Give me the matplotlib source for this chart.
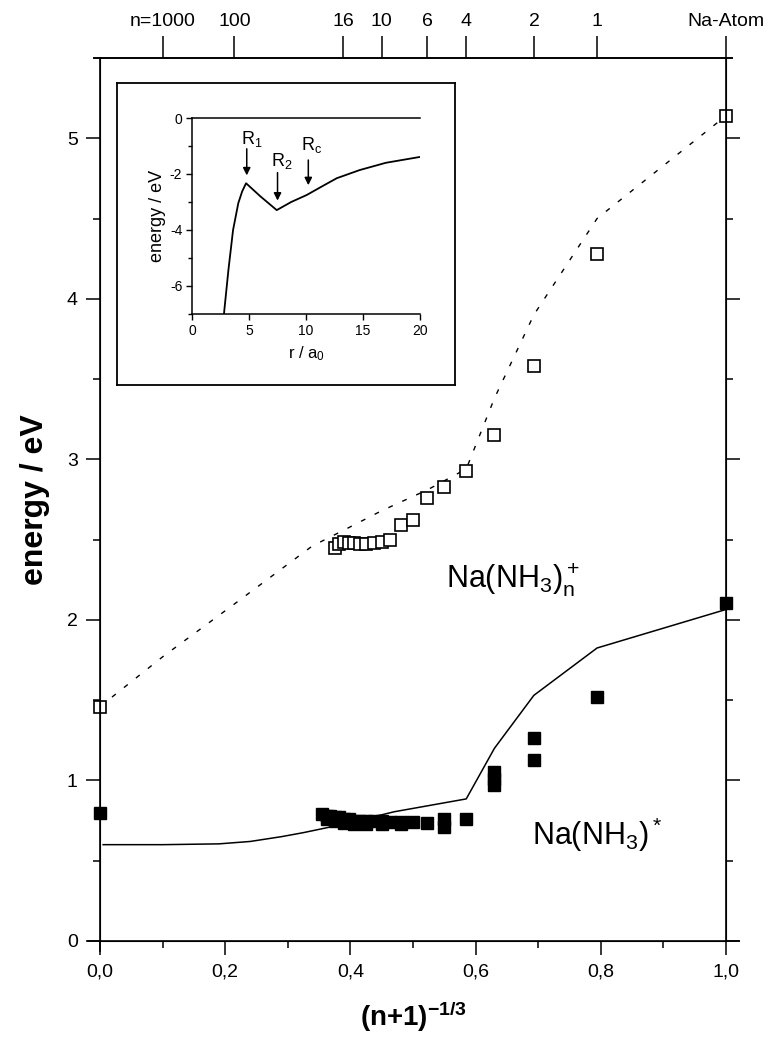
import matplotlib
matplotlib.use('Agg')
import matplotlib.pyplot as plt
from matplotlib.ticker import MultipleLocator, FuncFormatter

plt.rcParams['font.family'] = ['Liberation Sans', 'DejaVu Sans']
plt.rcParams['mathtext.fontset'] = 'custom'
plt.rcParams['mathtext.rm'] = 'Liberation Sans'
plt.rcParams['mathtext.bf'] = 'Liberation Sans:bold'
plt.rcParams['mathtext.default'] = 'regular'
plt.rcParams['axes.unicode_minus'] = False

###########################################
# Data
###########################################

# Na(NH3)n+  (open squares)
ion_x = [0.0, 0.375, 0.382, 0.389, 0.397, 0.405, 0.415, 0.425, 0.437, 0.450,
         0.464, 0.481, 0.500, 0.523, 0.550, 0.585, 0.630, 0.693, 0.794, 1.0]
ion_y = [1.46, 2.445, 2.475, 2.487, 2.481, 2.481, 2.47, 2.47, 2.481, 2.487,
         2.50, 2.59, 2.62, 2.76, 2.83, 2.93, 3.15, 3.58, 4.28, 5.14]

# Na(NH3)n*  (filled squares)
neu_x = [0.0, 0.355, 0.362, 0.368, 0.375, 0.382, 0.389, 0.397, 0.405, 0.415,
         0.425, 0.437, 0.450, 0.464, 0.481, 0.500,
         0.362, 0.375, 0.389, 0.405, 0.425, 0.450, 0.481,
         0.523, 0.550, 0.550, 0.585, 0.630, 0.630, 0.630, 0.693, 0.693, 0.794, 1.0]
neu_y = [0.795, 0.79, 0.78, 0.78, 0.77, 0.77, 0.76, 0.76, 0.75, 0.75,
         0.75, 0.745, 0.745, 0.74, 0.74, 0.74,
         0.76, 0.745, 0.735, 0.73, 0.73, 0.73, 0.73,
         0.734, 0.71, 0.76, 0.76, 0.97, 1.01, 1.05, 1.127, 1.262, 1.517, 2.107]

# model curves
ion_fit_x = [0.0, 0.10, 0.215, 0.339, 0.39, 0.45, 0.523, 0.585, 0.63, 0.693, 0.794, 1.0]
ion_fit_y = [1.46, 1.77, 2.10, 2.46, 2.56, 2.68, 2.81, 2.94, 3.38, 3.90, 4.50, 5.14]
neu_fit_x = [0.005, 0.10, 0.19, 0.24, 0.29, 0.325, 0.38, 0.47, 0.585, 0.63, 0.693, 0.794, 1.0]
neu_fit_y = [0.60, 0.60, 0.605, 0.62, 0.65, 0.675, 0.72, 0.805, 0.885, 1.20, 1.53, 1.825, 2.065]

# top axis: cluster size n
top_n = [1000, 100, 16, 10, 6, 4, 2, 1, 0]
top_labels = ['n=1000', '100', '16', '10', '6', '4', '2', '1', 'Na-Atom']

# inset potential curve
pot_r = [2.8, 2.9, 3.2, 3.6, 4.06, 4.4, 4.74, 6.0, 7.43, 8.7, 10.06, 11.5, 12.7, 14.7, 17.0, 20.0]
pot_e = [-7.0, -6.6, -5.4, -4.0, -3.04, -2.62, -2.33, -2.8, -3.29, -3.0, -2.75, -2.42, -2.15, -1.86, -1.6, -1.39]

###########################################
# Figure
###########################################

fig = plt.figure(figsize=(7.79, 10.48), dpi=100)
ax = fig.add_axes([0.1284, 0.1021, 0.8036, 0.8426])

ax.plot(ion_fit_x, ion_fit_y, color='black', lw=1.0, dashes=(3.5, 7.5))
ax.plot(neu_fit_x, neu_fit_y, color='black', lw=1.1)
ax.plot(ion_x, ion_y, 's', ms=8, mfc='white', mec='black', mew=1.2, clip_on=False)
ax.plot(neu_x, neu_y, 's', ms=8, mfc='black', mec='black', mew=1.0, clip_on=False)

ax.set_xlim(0, 1.0)
ax.set_ylim(0, 5.5)
ax.xaxis.set_major_locator(MultipleLocator(0.2))
ax.xaxis.set_minor_locator(MultipleLocator(0.1))
ax.yaxis.set_major_locator(MultipleLocator(1))
ax.yaxis.set_minor_locator(MultipleLocator(0.5))
ax.xaxis.set_major_formatter(FuncFormatter(lambda v, p: f'{v:.1f}'.replace('.', ',')))
ax.tick_params(which='both', direction='out', top=False, right=True, width=1.1)
ax.tick_params(which='major', length=10, labelsize=14, pad=6)
ax.tick_params(which='minor', length=5)
for s in ax.spines.values():
    s.set_linewidth(1.2)
ax.spines['bottom'].set_bounds(-0.02, 1.02)
ax.spines['left'].set_bounds(-0.06, 5.5)

ax.set_xlabel(r'(n+1)$^{-1/3}$', fontsize=20, fontweight='bold', labelpad=14)
ax.set_ylabel('energy / eV', fontsize=23, fontweight='bold', labelpad=12)

ax.text(0.553, 2.2, r'Na(NH$_3$)$_n^+$', fontsize=22)
ax.text(0.69, 0.6, r'Na(NH$_3$)$^*$', fontsize=22)

# top axis in n
ax2 = ax.twiny()
ax2.set_xlim(ax.get_xlim())
ax2.set_xticks([(n + 1) ** (-1 / 3) for n in top_n])
ax2.set_xticklabels(top_labels)
ax2.tick_params(axis='x', direction='out', length=16, width=1.1, labelsize=14, pad=4)
ax2.spines['top'].set_linewidth(1.2)
ax2.spines['top'].set_bounds(-0.01, 1.01)

# inset frame and inset plot
frame = fig.add_axes([0.1502, 0.6326, 0.4339, 0.2882])
frame.set_xticks([])
frame.set_yticks([])
for s in frame.spines.values():
    s.set_linewidth(1.3)

ins = fig.add_axes([0.2465, 0.7004, 0.2927, 0.187])
ins.plot(pot_r, pot_e, color='black', lw=1.3)
ins.set_xlim(0, 20)
ins.set_ylim(-7, 0)
ins.xaxis.set_major_locator(MultipleLocator(5))
ins.yaxis.set_major_locator(MultipleLocator(2))
ins.yaxis.set_minor_locator(MultipleLocator(1))
ins.tick_params(which='both', direction='out', labelsize=10, width=1.0)
ins.tick_params(which='major', length=4, pad=3)
ins.tick_params(which='minor', length=3)
ins.spines['right'].set_visible(False)
for s in ['left', 'bottom', 'top']:
    ins.spines[s].set_linewidth(1.1)
ins.set_xlabel(r'r / a$_0$', fontsize=12, labelpad=5)
ins.set_ylabel('energy / eV', fontsize=13, labelpad=3)

for xr, y0, y1, lab, dx, ly in [(4.8, -1.1, -2.05, r'R$_1$', 0.4, -0.75),
                               (7.5, -1.95, -2.95, r'R$_2$', 0.4, -1.55),
                               (10.2, -1.5, -2.4, r'R$_c$', 0.3, -0.95)]:
    ins.annotate('', xy=(xr, y1), xytext=(xr, y0),
                 arrowprops=dict(arrowstyle='-|>', color='black', lw=1.1,
                                 mutation_scale=11, shrinkA=0, shrinkB=0))
    ins.text(xr + dx, ly, lab, fontsize=13, ha='center', va='center')

plt.savefig('out.png', dpi=100, facecolor='white')
